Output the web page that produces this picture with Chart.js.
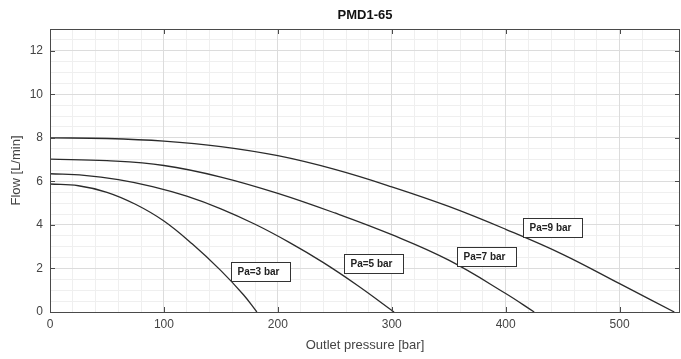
<!DOCTYPE html>
<html>
<head>
<meta charset="utf-8">
<script src="https://cdn.jsdelivr.net/npm/chart.js@4/dist/chart.umd.min.js"></script>
<style>
  html, body { margin: 0; padding: 0; background: #fff; }
  #wrap { width: 681px; height: 359px; }
</style>
</head>
<body>
<div id="wrap"><canvas id="c" width="681" height="359"></canvas></div>
<script>
// Pump curves: flow vs outlet pressure for several inlet pressures (Pa)
const chartTitle = 'PMD1-65';
const xAxisTitle = 'Outlet pressure [bar]';
const yAxisTitle = 'Flow [L/min]';

const seriesNames = ['Pa=3 bar', 'Pa=5 bar', 'Pa=7 bar', 'Pa=9 bar'];

const pressurePa3 = [0, 25, 50, 75, 100, 125, 150, 170, 181.6];
const flowPa3     = [5.88, 5.8, 5.5, 4.95, 4.18, 3.12, 1.9, 0.78, 0];

const pressurePa5 = [0, 30, 60, 90, 120, 150, 180, 210, 240, 270, 302];
const flowPa5     = [6.35, 6.28, 6.08, 5.76, 5.32, 4.74, 4.03, 3.2, 2.27, 1.22, 0];

const pressurePa7 = [0, 50, 100, 150, 200, 250, 300, 350, 400, 425];
const flowPa7     = [7.02, 6.95, 6.73, 6.2, 5.45, 4.55, 3.55, 2.38, 0.85, 0];

const pressurePa9 = [0, 50, 100, 150, 200, 250, 300, 350, 400, 450, 500, 548];
const flowPa9     = [8.0, 7.97, 7.85, 7.6, 7.18, 6.55, 5.75, 4.85, 3.8, 2.65, 1.3, 0];

// Where each curve's boxed label sits, in data units (pressure, flow)
const labelPressure = [185, 284, 383, 441];
const labelFlow     = [1.85, 2.22, 2.56, 3.88];

const xTickValues = [0, 100, 200, 300, 400, 500];
const yTickValues = [0, 2, 4, 6, 8, 10, 12];
const xMax = 553;
const yMax = 13;

const FONT = "'Liberation Sans', Arial, Helvetica, sans-serif";

const pressures = [pressurePa3, pressurePa5, pressurePa7, pressurePa9];
const flows = [flowPa3, flowPa5, flowPa7, flowPa9];

const datasets = seriesNames.map((name, i) => ({
  label: name,
  data: pressures[i].map((p, k) => ({ x: p, y: flows[i][k] })),
  borderColor: '#2b2b2b',
  borderWidth: 1.3,
  pointRadius: 0,
  fill: false,
  tension: 0.4
}));

// Title centred over the plot area
const titlePlugin = {
  id: 'plotTitle',
  afterDraw(chart) {
    const { ctx, chartArea } = chart;
    ctx.save();
    ctx.font = 'bold 13px ' + FONT;
    ctx.fillStyle = '#111';
    ctx.textAlign = 'center';
    ctx.textBaseline = 'middle';
    ctx.fillText(chartTitle, (chartArea.left + chartArea.right) / 2, 15);
    ctx.restore();
  }
};

// Axes box with inward tick marks on all four sides
const boxPlugin = {
  id: 'axesBox',
  afterDatasetsDraw(chart) {
    const { ctx, chartArea: a, scales } = chart;
    ctx.save();
    ctx.strokeStyle = '#4a4a4a';
    ctx.lineWidth = 1;
    ctx.strokeRect(Math.round(a.left) + 0.5, Math.round(a.top) + 0.5,
                   Math.round(a.right - a.left) - 1, Math.round(a.bottom - a.top));
    const len = 5;
    ctx.beginPath();
    xTickValues.forEach(v => {
      const px = Math.round(scales.x.getPixelForValue(v)) + 0.5;
      ctx.moveTo(px, a.bottom); ctx.lineTo(px, a.bottom - len);
      ctx.moveTo(px, a.top); ctx.lineTo(px, a.top + len);
    });
    yTickValues.forEach(v => {
      const py = Math.round(scales.y.getPixelForValue(v)) + 0.5;
      ctx.moveTo(a.left, py); ctx.lineTo(a.left + len, py);
      ctx.moveTo(a.right, py); ctx.lineTo(a.right - len, py);
    });
    ctx.stroke();
    ctx.restore();
  }
};

// Boxed curve labels
const labelPlugin = {
  id: 'curveLabels',
  afterDatasetsDraw(chart) {
    const { ctx, scales } = chart;
    ctx.save();
    ctx.font = 'bold 10px ' + FONT;
    ctx.textBaseline = 'middle';
    ctx.textAlign = 'left';
    seriesNames.forEach((name, i) => {
      const cx = scales.x.getPixelForValue(labelPressure[i]);
      const cy = scales.y.getPixelForValue(labelFlow[i]);
      const w = 59, h = 19;
      const x0 = Math.round(cx - w / 2) + 0.5;
      const y0 = Math.round(cy - h / 2) + 0.5;
      ctx.fillStyle = '#fff';
      ctx.fillRect(x0, y0, w, h);
      ctx.strokeStyle = '#333';
      ctx.lineWidth = 1;
      ctx.strokeRect(x0, y0, w, h);
      ctx.fillStyle = '#222';
      ctx.fillText(name, x0 + 6, y0 + h / 2 + 0.5);
    });
    ctx.restore();
  }
};

const isMultiple = (v, step) => Math.abs(v / step - Math.round(v / step)) < 1e-6;

new Chart(document.getElementById('c'), {
  type: 'line',
  data: { datasets },
  plugins: [titlePlugin, boxPlugin, labelPlugin],
  options: {
    responsive: false,
    animation: false,
    devicePixelRatio: 1,
    layout: { padding: { top: 29, right: 1, left: 0, bottom: 0 } },
    plugins: { legend: { display: false }, tooltip: { enabled: false }, title: { display: false } },
    scales: {
      xMinor: {
        type: 'linear', position: 'bottom', min: 0, max: xMax, z: -1,
        ticks: { display: false, stepSize: 20 },
        grid: { color: '#efefef', lineWidth: 1, drawTicks: false },
        border: { display: false },
        afterBuildTicks(s) { s.ticks = s.ticks.filter(t => isMultiple(t.value, 20) && !isMultiple(t.value, 100)); },
        afterFit(s) { s.height = 0; }
      },
      yMinor: {
        type: 'linear', position: 'left', min: 0, max: yMax, z: -1,
        ticks: { display: false, stepSize: 0.5 },
        grid: { color: '#efefef', lineWidth: 1, drawTicks: false },
        border: { display: false },
        afterBuildTicks(s) { s.ticks = s.ticks.filter(t => isMultiple(t.value, 0.5) && !isMultiple(t.value, 2)); },
        afterFit(s) { s.width = 0; }
      },
      x: {
        type: 'linear', position: 'bottom', min: 0, max: xMax,
        afterBuildTicks(s) { s.ticks = xTickValues.map(v => ({ value: v })); },
        ticks: { color: '#444', font: { family: FONT, size: 12 }, padding: 5, maxRotation: 0 },
        grid: { color: '#dcdcdc', lineWidth: 1, drawTicks: false },
        border: { display: false },
        title: { display: true, text: xAxisTitle, color: '#444', font: { family: FONT, size: 13 }, padding: { top: 0, bottom: 6 } },
        afterFit(s) { s.height = 47; }
      },
      y: {
        type: 'linear', position: 'left', min: 0, max: yMax,
        afterBuildTicks(s) { s.ticks = yTickValues.map(v => ({ value: v })); },
        ticks: { color: '#444', font: { family: FONT, size: 12 }, padding: 7 },
        grid: { color: '#dcdcdc', lineWidth: 1, drawTicks: false },
        border: { display: false },
        title: { display: true, text: yAxisTitle, color: '#444', font: { family: FONT, size: 13 }, padding: { top: 9, bottom: 0 } },
        afterFit(s) { s.width = 50; }
      }
    }
  }
});
</script>
</body>
</html>
